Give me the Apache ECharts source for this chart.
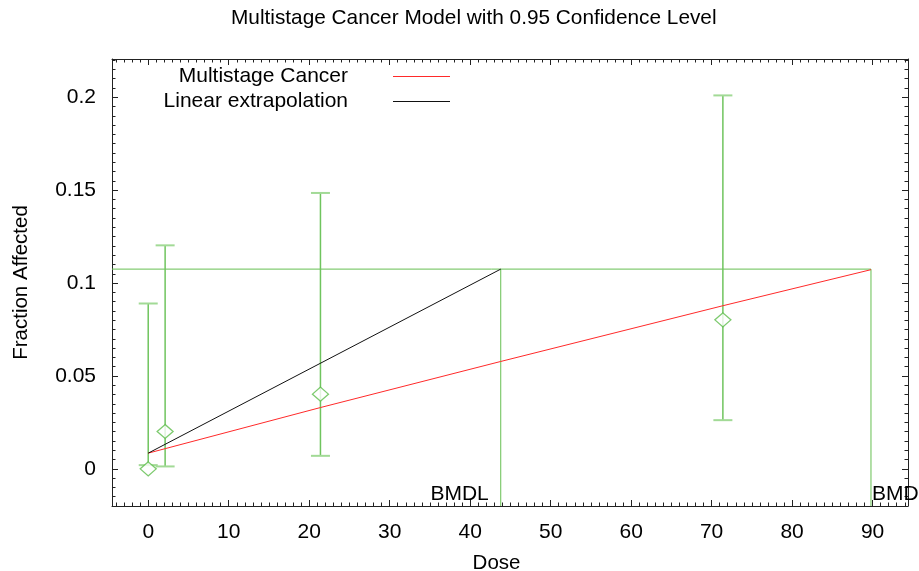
<!DOCTYPE html>
<html><head><meta charset="utf-8">
<script src="https://cdn.jsdelivr.net/npm/echarts@6/dist/echarts.min.js"></script>
<style>html,body{margin:0;padding:0;background:#fff}#c{width:919px;height:571px}</style>
</head><body><div id="c"></div>
<script>
const titleText = 'Multistage Cancer Model with 0.95 Confidence Level';
const xName = 'Dose';
const yName = 'Fraction Affected';
const legendNames = ['Multistage Cancer', 'Linear extrapolation'];
const obsDose = [0, 2.1, 21.4, 71.4];
const obsFrac = [0, 0.0201, 0.0402, 0.0802];
const ciLow = [0.002, 0.0013, 0.0070, 0.0262];
const ciHigh = [0.089, 0.1203, 0.1485, 0.2010];
const modelDose = [0, 21.4, 43.8, 71.4, 89.8];
const modelFrac = [0.00845, 0.0330, 0.0578, 0.0878, 0.1072];
const linDose = [0, 43.8];
const linFrac = [0.00845, 0.1075];
const bmr = 0.1075;
const bmdl = 43.8;
const bmd = 89.8;
const xRange = [-4.5, 94.4];
const yRange = [-0.02, 0.2206];

const FONT = 'Liberation Sans, Arial, sans-serif';
const GREEN = '#66bf52';
const chart = echarts.init(document.getElementById('c'), null, {renderer: 'canvas'});

function axisBase(isX, pos, showLabel) {
  return {
    type: 'value',
    position: pos,
    min: isX ? xRange[0] : yRange[0],
    max: isX ? xRange[1] : yRange[1],
    splitNumber: isX ? 10 : 5,
    axisLine: {show: true, onZero: false, lineStyle: {color: '#222', width: 1}},
    axisTick: {show: true, inside: true, length: 6, lineStyle: {color: '#222', width: 1}},
    minorTick: {show: true, splitNumber: 10, length: 3.5, lineStyle: {color: '#222', width: 1}},
    splitLine: {show: false},
    minorSplitLine: {show: false},
    axisLabel: {
      show: showLabel, showMinLabel: false, showMaxLabel: false,
      color: '#000', fontSize: 21, fontFamily: FONT, margin: isX ? 16 : 16
    }
  };
}

const xMain = Object.assign(axisBase(true, 'bottom', true), {
  name: xName, nameLocation: 'middle', nameGap: 47,
  nameTextStyle: {color: '#000', fontSize: 20.5, fontFamily: FONT, padding: [0, 27, 0, 0]}
});
const yMain = Object.assign(axisBase(false, 'left', true), {
  name: yName, nameLocation: 'middle', nameGap: 80,
  nameTextStyle: {color: '#000', fontSize: 20.5, fontFamily: FONT}
});

const obsData = obsDose.map((d, i) => [d, obsFrac[i]]);
const ciData = obsDose.map((d, i) => [d, ciLow[i], ciHigh[i]]);
const modelData = modelDose.map((d, i) => [d, modelFrac[i]]);
const linData = linDose.map((d, i) => [d, linFrac[i]]);
const bmdLine = [[xRange[0], bmr], [bmd, bmr], [bmd, yRange[0]]];
const bmdlLine = [[bmdl, bmr], [bmdl, yRange[0]]];
const bmLabels = [[bmdl, yRange[0], 'BMDL', 'right', -12], [bmd, yRange[0], 'BMD', 'left', 1]];

function legendFor(name, top) {
  return {
    data: [name], right: 469, top: top, padding: 0,
    align: 'right', icon: 'rect', itemWidth: 57, itemHeight: 1,
    textStyle: {color: '#000', fontSize: 21, fontFamily: FONT, padding: [0, 40, 0, 0]},
    selectedMode: false
  };
}

chart.setOption({
  animation: false,
  backgroundColor: '#fff',
  title: {
    text: titleText, left: 231, top: 8, padding: 0,
    textStyle: {color: '#000', fontSize: 20.8, fontWeight: 'normal', fontFamily: FONT}
  },
  legend: [legendFor(legendNames[0], 66), legendFor(legendNames[1], 91)],
  grid: {left: 112, right: 11, top: 59, bottom: 65, containLabel: false, outerBoundsMode: 'none'},
  xAxis: [xMain, axisBase(true, 'top', false)],
  yAxis: [yMain, axisBase(false, 'right', false)],
  series: [
    {
      name: 'BMR', type: 'line', data: bmdLine, symbol: 'none',
      lineStyle: {color: GREEN, width: 1}, z: 2, silent: true
    },
    {
      name: 'BMDL line', type: 'line', data: bmdlLine, symbol: 'none',
      lineStyle: {color: GREEN, width: 1}, z: 2, silent: true
    },
    {
      name: 'CI', type: 'custom', data: ciData, z: 3,
      encode: {x: 0, y: [1, 2]},
      renderItem: function (params, api) {
        const x = api.value(0), lo = api.value(1), hi = api.value(2);
        const pLo = api.coord([x, lo]), pHi = api.coord([x, hi]);
        const hw = 9.5;
        return {type: 'group', children: [
          {type: 'line', shape: {x1: pLo[0], y1: pLo[1], x2: pHi[0], y2: pHi[1]}, style: {stroke: '#6fc45e', lineWidth: 1.5}},
          {type: 'line', shape: {x1: pLo[0] - hw, y1: pLo[1], x2: pLo[0] + hw, y2: pLo[1]}, style: {stroke: '#a2da96', lineWidth: 2}},
          {type: 'line', shape: {x1: pHi[0] - hw, y1: pHi[1], x2: pHi[0] + hw, y2: pHi[1]}, style: {stroke: '#a2da96', lineWidth: 2}}
        ]};
      }
    },
    {
      name: legendNames[0], type: 'line', data: modelData, symbol: 'none',
      itemStyle: {color: '#ff2a2a'}, lineStyle: {color: '#ff2a2a', width: 1}, z: 4
    },
    {
      name: legendNames[1], type: 'line', data: linData, symbol: 'none',
      itemStyle: {color: '#111'}, lineStyle: {color: '#111', width: 1}, z: 4
    },
    {
      name: 'Observed', type: 'scatter', data: obsData, symbol: 'diamond', symbolSize: [16, 14],
      itemStyle: {color: '#fff', borderColor: '#5dbd4a', borderWidth: 1.3}, z: 5
    },
    {
      name: 'BM labels', type: 'custom', data: bmLabels, z: 6, clip: false,
      encode: {x: 0, y: 1},
      renderItem: function (params, api) {
        const item = bmLabels[params.dataIndex];
        const p = api.coord([item[0], item[1]]);
        return {
          type: 'text', x: p[0] + item[4], y: p[1] - 1,
          style: {text: item[2], align: item[3], verticalAlign: 'bottom',
                  textAlign: item[3], textVerticalAlign: 'bottom',
                  fontSize: 21, fontFamily: FONT, fill: '#000'}
        };
      }
    }
  ]
});
</script></body></html>
